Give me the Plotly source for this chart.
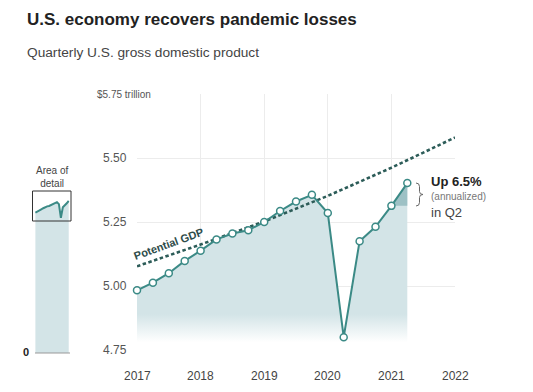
import plotly.graph_objects as go

# ---------------- data ----------------
quarters = ["2017-Q1", "2017-Q2", "2017-Q3", "2017-Q4",
            "2018-Q1", "2018-Q2", "2018-Q3", "2018-Q4",
            "2019-Q1", "2019-Q2", "2019-Q3", "2019-Q4",
            "2020-Q1", "2020-Q2", "2020-Q3", "2020-Q4",
            "2021-Q1", "2021-Q2"]
gdp = [4.983, 5.013, 5.050, 5.098,
       5.138, 5.182, 5.205, 5.218,
       5.250, 5.293, 5.330, 5.356,
       5.285, 4.800, 5.175, 5.231,
       5.313, 5.402]
potential_years = [2017, 2018, 2019, 2020, 2021, 2022]
potential_gdp = [5.077, 5.162, 5.252, 5.352, 5.462, 5.580]
year_ticks = [2017, 2018, 2019, 2020, 2021, 2022]
y_ticks = [4.75, 5.00, 5.25, 5.50, 5.75]
y_tick_labels = ["4.75", "5.00", "5.25", "5.50", "$5.75 trillion"]

# quarter -> decimal year
xq = [int(q[:4]) + (int(q[-1]) - 1) / 4 for q in quarters]

W, H = 533, 392
def px(x):
    return x / W
def py(y):
    return 1 - y / H

LINE = "#3b8a86"
FILL = "#d3e4e7"
DARK = "#9dc1c5"
POT = "#2c5c58"
FONT = "Liberation Sans"

fig = go.Figure()

# main area fill with gradient fading at the bottom
fig.add_trace(go.Scatter(
    x=xq, y=gdp, mode="none", fill="tozeroy",
    fillgradient=dict(type="vertical", start=4.78, stop=4.89,
                      colorscale=[[0, "rgba(255,255,255,1)"], [1, FILL]]),
    hoverinfo="skip", showlegend=False, xaxis="x", yaxis="y"))

# darker triangle showing Q2 gain
fig.add_trace(go.Scatter(
    x=[xq[-2], xq[-1], xq[-1]], y=[gdp[-2], gdp[-1], gdp[-2]],
    mode="none", fill="toself", fillcolor=DARK,
    hoverinfo="skip", showlegend=False, xaxis="x", yaxis="y"))

# potential GDP
fig.add_trace(go.Scatter(
    x=potential_years, y=potential_gdp, mode="lines",
    line=dict(color=POT, width=2.6, dash="3.5px,2.5px"),
    hoverinfo="skip", showlegend=False, cliponaxis=False, xaxis="x", yaxis="y"))

# GDP line with markers
fig.add_trace(go.Scatter(
    x=xq, y=gdp, mode="lines+markers",
    line=dict(color=LINE, width=2),
    marker=dict(size=7, color="white", line=dict(color=LINE, width=1.5)),
    cliponaxis=False, showlegend=False, xaxis="x", yaxis="y"))

# inset overview
fig.add_trace(go.Scatter(
    x=xq, y=gdp, mode="lines", fill="tozeroy", fillcolor=FILL,
    line=dict(color=LINE, width=2),
    hoverinfo="skip", showlegend=False, xaxis="x2", yaxis="y2"))

annotations = []
# title & subtitle
annotations.append(dict(x=px(25), y=py(20), xref="paper", yref="paper",
                        text="<b>U.S. economy recovers pandemic losses</b>",
                        showarrow=False, xanchor="left", yanchor="middle",
                        font=dict(family=FONT, size=17, color="#222")))
annotations.append(dict(x=px(25), y=py(52), xref="paper", yref="paper",
                        text="Quarterly U.S. gross domestic product",
                        showarrow=False, xanchor="left", yanchor="middle",
                        font=dict(family=FONT, size=13.7, color="#444")))
# y tick labels
for v, t in zip(y_ticks, y_tick_labels):
    if t.startswith("$"):
        annotations.append(dict(x=px(95), y=v, xref="paper", yref="y", text=t,
                                showarrow=False, xanchor="left", yanchor="middle",
                                bgcolor="white", borderpad=1,
                                font=dict(family=FONT, size=10, color="#555")))
    else:
        annotations.append(dict(x=px(101), y=v, xref="paper", yref="y", text=t,
                                showarrow=False, xanchor="left", yanchor="middle",
                                font=dict(family=FONT, size=12, color="#555")))
# x tick labels
for yr in year_ticks:
    annotations.append(dict(x=yr, y=py(376), xref="x", yref="paper", text=str(yr),
                            showarrow=False, xanchor="center", yanchor="middle",
                            font=dict(family=FONT, size=12, color="#444")))
# potential GDP label
annotations.append(dict(x=px(168), y=py(244), xref="paper", yref="paper",
                        text="<b>Potential GDP</b>", textangle=-20,
                        showarrow=False, xanchor="center", yanchor="middle",
                        font=dict(family=FONT, size=11, color="#2e4c4a")))
# right annotation
annotations.append(dict(x=px(429), y=py(181), xref="paper", yref="paper",
                        text="<b>Up 6.5%</b>", showarrow=False, xanchor="left", yanchor="middle",
                        font=dict(family=FONT, size=13, color="#222")))
annotations.append(dict(x=px(429), y=py(196.5), xref="paper", yref="paper",
                        text="(annualized)", showarrow=False, xanchor="left", yanchor="middle",
                        font=dict(family=FONT, size=10, color="#777")))
annotations.append(dict(x=px(429), y=py(212), xref="paper", yref="paper",
                        text="in Q2", showarrow=False, xanchor="left", yanchor="middle",
                        font=dict(family=FONT, size=13, color="#444")))
# inset labels
annotations.append(dict(x=px(52), y=py(177), xref="paper", yref="paper",
                        text="Area of<br>detail", showarrow=False, xanchor="center", yanchor="middle",
                        font=dict(family=FONT, size=10, color="#444")))
annotations.append(dict(x=px(31), y=py(352), xref="paper", yref="paper",
                        text="<b>0</b>", showarrow=False, xanchor="right", yanchor="middle",
                        font=dict(family=FONT, size=11, color="#222")))

def ppath(points, close=False):
    s = ""
    for cmd, pts in points:
        s += cmd + " " + " ".join(f"{px(a):.5f},{py(b):.5f}" for a, b in pts) + " "
    if close:
        s += "Z"
    return s

shapes = []
# inset box
shapes.append(dict(type="rect", xref="paper", yref="paper",
                   x0=px(32.5), x1=px(71), y0=py(191), y1=py(221),
                   line=dict(color="#333", width=1), fillcolor="rgba(0,0,0,0)"))
# inset baseline
shapes.append(dict(type="line", xref="paper", yref="paper",
                   x0=px(35), x1=px(70), y0=py(353), y1=py(353),
                   line=dict(color="#999", width=1)))
# arrow triangle
shapes.append(dict(type="path", xref="paper", yref="paper",
                   path=ppath([("M", [(74.5, 202)]), ("L", [(80.5, 207.3), (74.5, 212.6)])], close=True),
                   fillcolor="#111", line=dict(width=0)))
# brace
shapes.append(dict(type="path", xref="paper", yref="paper",
                   path=ppath([("M", [(416, 183)]), ("Q", [(419.5, 183), (419.5, 186.5)]),
                               ("L", [(419.5, 191.5)]), ("Q", [(419.5, 194.5), (423, 194.5)]),
                               ("Q", [(419.5, 194.5), (419.5, 197.5)]),
                               ("L", [(419.5, 202.5)]), ("Q", [(419.5, 206), (416, 206)])]),
                   line=dict(color="#666", width=1)))

fig.update_layout(
    width=W, height=H, autosize=False,
    margin=dict(l=0, r=0, t=0, b=0, pad=0),
    paper_bgcolor="white", plot_bgcolor="white",
    showlegend=False,
    hovermode=False,
    xaxis=dict(domain=[px(137), px(455)], range=[2017, 2022],
               tickvals=year_ticks, showticklabels=False,
               showgrid=True, gridcolor="#ececec", gridwidth=1,
               zeroline=False, showline=False, ticks=""),
    yaxis=dict(domain=[py(350), py(94)], range=[4.75, 5.75],
               tickvals=y_ticks, showticklabels=False,
               showgrid=True, gridcolor="#ececec", gridwidth=1,
               zeroline=False, showline=False, ticks=""),
    xaxis2=dict(domain=[px(35), px(69.5)], range=[2016.95, 2021.35],
                visible=False, anchor="y2"),
    yaxis2=dict(domain=[py(353), py(191)], range=[0, 5.75],
                visible=False, anchor="x2"),
    annotations=annotations,
    shapes=shapes,
)

fig.write_html("out.html", config={"displayModeBar": False, "staticPlot": True},
               post_script="document.body.style.margin='0';document.body.style.overflow='hidden';")
